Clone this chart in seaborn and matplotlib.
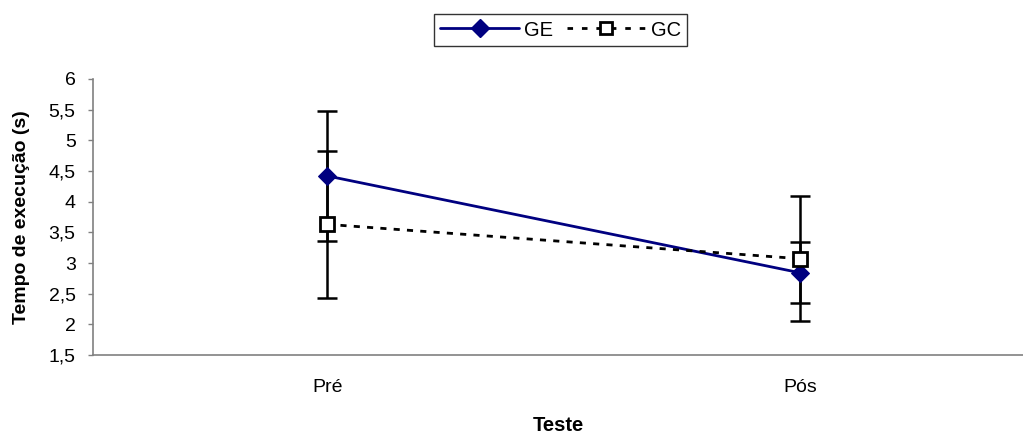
import numpy as np
import pandas as pd
import matplotlib
matplotlib.use("Agg")
import matplotlib.pyplot as plt
import seaborn as sns
from matplotlib.lines import Line2D

# data
testes = ["Pré", "Pós"]
ge_media = [4.42, 2.84]
ge_dp = [1.06, 0.50]
gc_media = [3.63, 3.07]
gc_dp = [1.20, 1.02]
yticks = [1.5, 2, 2.5, 3, 3.5, 4, 4.5, 5, 5.5, 6]

df = pd.DataFrame({
    "Teste": testes * 2,
    "x": [0, 1, 0, 1],
    "Grupo": ["GE", "GE", "GC", "GC"],
    "Tempo": ge_media + gc_media,
    "dp": ge_dp + gc_dp,
})

sns.set_style("white")
plt.rcParams["font.family"] = ["Liberation Sans", "DejaVu Sans"]
plt.rcParams["text.color"] = "black"
plt.rcParams["axes.labelcolor"] = "black"
plt.rcParams["xtick.color"] = "black"
plt.rcParams["ytick.color"] = "black"

fig = plt.figure(figsize=(10.23, 4.34), dpi=100)
ax = fig.add_axes([93 / 1023, 79 / 434, 1 - 93 / 1023, 276 / 434])

# error bars first, markers on top
for g in ["GE", "GC"]:
    d = df[df.Grupo == g]
    ax.errorbar(d.x, d.Tempo, yerr=d.dp, fmt="none", ecolor="black",
                elinewidth=1.8, capsize=7, capthick=1.8, zorder=2)

n_before = len(ax.get_lines())
sns.lineplot(data=df, x="x", y="Tempo", hue="Grupo", style="Grupo",
             palette={"GE": "#000080", "GC": "black"},
             dashes={"GE": "", "GC": (2.2, 2.6)},
             markers={"GE": "D", "GC": "s"}, markersize=9,
             linewidth=2, ax=ax, legend=False, zorder=3)
for ln in ax.get_lines()[n_before:]:
    if ln.get_marker() == "s":
        ln.set_markerfacecolor("white")
        ln.set_markeredgecolor("black")
        ln.set_markeredgewidth(2)
        ln.set_markersize(10)
    else:
        ln.set_markerfacecolor("#000080")
        ln.set_markeredgecolor("#000080")

ax.set_xlim(-0.495, 1.471)
ax.set_ylim(1.5, 6)
ax.set_xticks([0, 1])
ax.set_xticklabels(testes, fontsize=14)
ax.set_yticks(yticks)
ax.set_yticklabels([str(v).replace(".", ",") if v % 1 else str(int(v)) for v in yticks], fontsize=14)
ax.tick_params(axis="y", direction="out", length=3.5, width=1, color="#808080", pad=9, left=True)
ax.tick_params(axis="x", length=0, pad=17)
for s in ["top", "right"]:
    ax.spines[s].set_visible(False)
for s in ["left", "bottom"]:
    ax.spines[s].set_color("#808080")
    ax.spines[s].set_linewidth(1.2)

ax.set_xlabel("Teste", fontsize=14.5, fontweight="bold", labelpad=15)
ax.set_ylabel("Tempo de execução (s)", fontsize=14, fontweight="bold", labelpad=13)

handles = [
    Line2D([], [], color="#000080", lw=2, marker="D", markersize=9),
    Line2D([], [], color="black", lw=2, ls=(0, (2.0, 3.2)), marker="s",
           markersize=9, markerfacecolor="white", markeredgewidth=2),
]
leg = fig.legend(handles, ["GE", "GC"], loc="center", bbox_to_anchor=(560.5 / 1023, 1 - 30 / 434),
                 ncol=2, fontsize=14.5, frameon=True, fancybox=False, edgecolor="black",
                 handlelength=3.9, handletextpad=0.25, columnspacing=0.7, borderpad=0.3,
                 borderaxespad=0)
leg.get_frame().set_linewidth(1)

fig.savefig("out.png", dpi=100)
